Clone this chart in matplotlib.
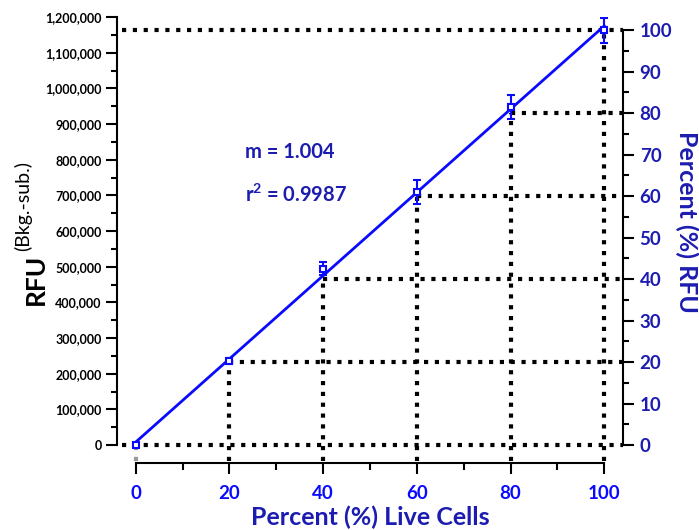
import numpy as np
import matplotlib
matplotlib.use("Agg")
import matplotlib.pyplot as plt
from matplotlib.ticker import FuncFormatter, MultipleLocator, FixedLocator

plt.rcParams['font.family'] = ['Lato', 'DejaVu Sans']
plt.rcParams['font.weight'] = 'bold'
plt.rcParams['mathtext.fontset'] = 'custom'
plt.rcParams['mathtext.rm'] = 'Lato:bold'
plt.rcParams['mathtext.bf'] = 'Lato:bold'

# data
live = [0, 20, 40, 60, 80, 100]
rfu = [0, 236000, 495000, 709000, 948000, 1163000]
err = [4000, 9000, 18000, 33000, 34000, 35000]
levels = [0, 20, 40, 60, 80, 100]
m_text = "m = 1.004"
r2_text = r"r$^{\mathbf{2}}$ = 0.9987"

navy = '#1c1cb0'
blue = '#0a0aff'

fig = plt.figure(figsize=(6.99, 5.30), dpi=100)
ax = fig.add_axes([117/699, 67/530, 506/699, 446/530])
ymin, ymax = -50000, 1200000
ax.set_xlim(-4, 104)
ax.set_ylim(ymin, ymax)

full = rfu[-1]
dot = dict(color='black', lw=3, linestyle=(0, (1, 1.6)), zorder=1)
# dotted guide lines
for p, x in zip(levels, live):
    yv = p * full / 100
    if p in (0, 100):
        ax.plot([-2.9, 104], [yv, yv], **dot)
    else:
        ax.plot([x, 104], [yv, yv], **dot)
    if x == 0:
        ax.plot([0, 0], [-45000, -3000], color='#999999', lw=3, linestyle=(0, (1, 1.6)), zorder=1)
    else:
        ax.plot([x, x], [-45000, yv], **dot)

# fit line
k, b = np.polyfit(live, rfu, 1)
xs = np.array([0, 100])
ax.plot(xs, k * xs + b, color=blue, lw=2, zorder=3)
ax.errorbar(live, rfu, yerr=err, fmt='s', color=blue, mfc='white', mec=blue,
            ms=5, mew=1.5, ecolor=blue, elinewidth=1.5, capsize=3, capthick=1.5, zorder=4)

ax.text(23.3, 821000, m_text, color=navy, fontsize=14.5, fontweight='bold', va='center')
ax.text(23.3, 700000, r2_text, color=navy, fontsize=14.5, fontweight='bold', va='center')

# axes styling
for s in ['top', 'right']:
    ax.spines[s].set_visible(False)
ax.spines['left'].set_bounds(0, 1200000)
ax.spines['bottom'].set_bounds(0, 100)
for s in ['left', 'bottom']:
    ax.spines[s].set_linewidth(1.5)
ax.yaxis.set_major_locator(MultipleLocator(100000))
ax.yaxis.set_minor_locator(FixedLocator(np.arange(50000, 1200000, 100000)))
ax.yaxis.set_major_formatter(FuncFormatter(lambda v, pos: f"{int(v):,}"))
ax.xaxis.set_major_locator(MultipleLocator(20))
ax.xaxis.set_minor_locator(FixedLocator(np.arange(10, 100, 20)))
ax.tick_params(axis='y', which='major', length=8, width=1.5, pad=3, labelsize=9)
ax.tick_params(axis='y', which='minor', length=4, width=1.5)
ax.tick_params(axis='x', which='major', length=8, width=1.5, pad=8, labelsize=13.5, labelcolor=blue)
ax.tick_params(axis='x', which='minor', length=5, width=1.5)

# right percent axis
ax2 = ax.twinx()
ax2.set_ylim(ymin / full * 100, ymax / full * 100)
for s in ['top', 'left', 'bottom']:
    ax2.spines[s].set_visible(False)
ax2.spines['right'].set_bounds(0, 100)
ax2.spines['right'].set_linewidth(1.5)
ax2.yaxis.set_major_locator(FixedLocator(np.arange(0, 101, 10)))
ax2.yaxis.set_minor_locator(FixedLocator(np.arange(5, 100, 10)))
ax2.tick_params(axis='y', which='major', length=8, width=1.5, pad=4, labelsize=13.5, labelcolor=navy)
ax2.tick_params(axis='y', which='minor', length=4, width=1.5)

# labels
fig.text(36/699, 1 - 279/530, "RFU", rotation=90, fontsize=19, fontweight='bold',
         ha='center', va='center')
fig.text(23/699, 1 - 206/530, "(Bkg.-sub.)", rotation=90, fontsize=14,
         fontweight='normal', ha='center', va='center')
fig.text(687/699, 1 - 222/530, "Percent (%) RFU", rotation=270, fontsize=18,
         fontweight='bold', color=navy, ha='center', va='center')
fig.text(370/699, 1 - 517/530, "Percent (%) Live Cells", fontsize=18,
         fontweight='bold', color=navy, ha='center', va='center')

fig.savefig("out.png", dpi=100)
